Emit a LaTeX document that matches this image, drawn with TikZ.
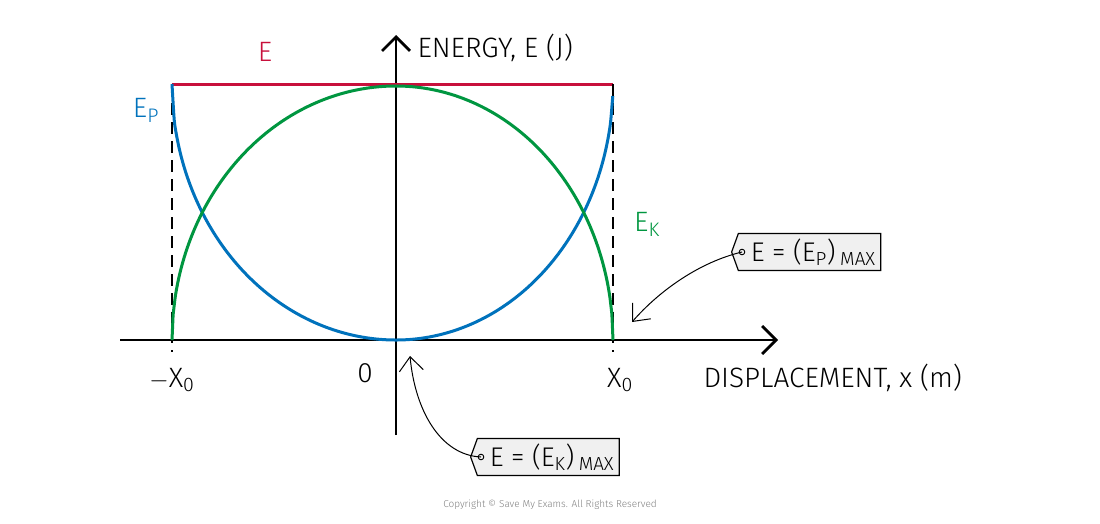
\documentclass[tikz,border=0pt]{standalone}
\usepackage{fontspec}
\setmainfont{Fira Sans Light}
\usetikzlibrary{arrows.meta,shapes.symbols}
\definecolor{eRed}{RGB}{200,16,60}
\definecolor{pBlue}{RGB}{0,114,188}
\definecolor{kGreen}{RGB}{0,150,64}
\tikzset{
  axis/.style = {line width=2.8pt, -{Straight Barb[length=14pt,width=28pt,line width=2.8pt]}},
  curve/.style = {line width=3pt},
  lbl/.style = {font=\fontsize{28}{32}\selectfont},
  tagbox/.style = {signal, signal to=west, signal pointer angle=140, draw,
                   fill=gray!12, line width=1.2pt, inner sep=5pt, font=\fontsize{27}{30}\selectfont},
  pointer/.style = {line width=1pt, -{Straight Barb[length=14pt,width=24pt]}},
}
\begin{document}
\begin{tikzpicture}[x=1pt,y=-1pt]
\useasboundingbox (0,0) rectangle (1100,523);
\coordinate (O) at (396,340);
\coordinate (L) at (172,340);
\coordinate (R) at (613,340);

% axes
\draw[axis] (120,340) -- (778,340);
\draw[axis] (396,435) -- (396,35);

% total energy and limits
\draw[curve, eRed] (172,84) -- (613,84);
\draw[line width=2.4pt, dash pattern=on 12pt off 7pt] (172,84) -- (172,352);
\draw[line width=2.4pt, dash pattern=on 12pt off 7pt] (613,84) -- (613,352);

% curves
\draw[curve, pBlue] plot[domain=-1:1, samples=201, smooth]
  ({396+\x*((\x<0)*224+(\x>=0)*217)}, {340-256*(1-sqrt(max(0,1-\x*\x)))});
\draw[curve, kGreen] (L) -- plot[domain=-0.995:0.995, samples=201, smooth]
  ({396+\x*((\x<0)*224+(\x>=0)*217)}, {340-254*sqrt(max(0,1-\x*\x))}) -- (R);

% labels
\node[lbl, text=eRed] (lE) at (265,52) {E};
\node[lbl, anchor=west] (lEn) at (414,48) {ENERGY, E (J)};
\node[lbl, text=pBlue] (lEp) at (146,110) {E\textsubscript{P}};
\node[lbl, text=kGreen] (lEk) at (647,224) {E\textsubscript{K}};
\node[lbl] (l0) at (365,373) {0};
\node[lbl] (lL) at (172,380) {$-$X\textsubscript{0}};
\node[lbl] (lR) at (620,380) {X\textsubscript{0}};
\node[lbl, anchor=west] (lx) at (700,378) {DISPLACEMENT, x (m)};

% tags
\node[tagbox, anchor=west] (tp) at (731,252) {\ E = (E\textsubscript{P})\,\textsubscript{MAX}};
\node[tagbox, anchor=west] (tk) at (470,457) {\ E = (E\textsubscript{K})\,\textsubscript{MAX}};
\coordinate (tpH) at (742,252);
\coordinate (tkH) at (481,457);
\draw[line width=0.9pt] (tpH) circle (2.8pt);
\draw[line width=0.9pt] (tkH) circle (2.8pt);
\coordinate (ap) at (632,322);
\coordinate (ak) at (410,356);
\draw[pointer] (tpH) .. controls (700,262) and (660,290) .. (ap);
\draw[pointer] (tkH) .. controls (440,455) and (415,410) .. (ak);

\node[text=gray, font=\normalsize] (copy) at (550,505) {Copyright © Save My Exams. All Rights Reserved};
\end{tikzpicture}
\end{document}
